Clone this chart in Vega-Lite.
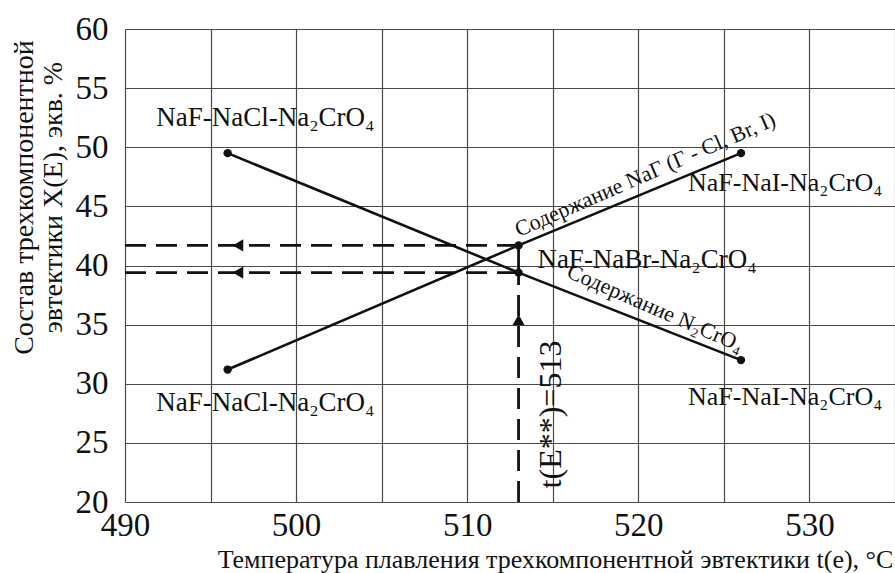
{
  "$schema": "https://vega.github.io/schema/vega-lite/v6.json",
  "autosize": {"type": "none"},
  "padding": {"left": 125, "top": 29, "right": 0, "bottom": 71},
  "width": 770,
  "height": 473,
  "background": "white",
  "config": {
    "view": {"stroke": null},
    "font": "Liberation Serif",
    "axis": {
      "grid": true,
      "gridColor": "#4a4a4a",
      "gridWidth": 1.2,
      "gridOpacity": 1,
      "domain": false,
      "ticks": false,
      "labelFont": "Liberation Serif",
      "titleFont": "Liberation Serif",
      "labelColor": "#111111",
      "titleColor": "#111111",
      "titleFontWeight": "normal",
      "labelFontSize": 33
    }
  },
  "datasets": {
    "lines": [
      {"series": "X", "t": 496, "v": 49.5},
      {"series": "X", "t": 513, "v": 39.4},
      {"series": "X", "t": 526, "v": 32.0},
      {"series": "G", "t": 496, "v": 31.2},
      {"series": "G", "t": 513, "v": 41.7},
      {"series": "G", "t": 526, "v": 49.5}
    ],
    "dashed": [
      {"t": 490, "t2": 513, "v": 41.7, "v2": 41.7},
      {"t": 490, "t2": 513, "v": 39.4, "v2": 39.4},
      {"t": 513, "t2": 513, "v": 20, "v2": 39.4}
    ],
    "solid": [
      {"t": 513, "t2": 513, "v": 39.4, "v2": 41.7}
    ],
    "leftArrows": [
      {"t": 496.6, "v": 41.7},
      {"t": 496.6, "v": 39.4}
    ],
    "upArrows": [
      {"t": 513, "v": 35.4}
    ],
    "labels": [
      {"t": 498.2, "v": 52.5, "text": "NaF-NaCl-Na₂CrO₄"},
      {"t": 498.2, "v": 28.4, "text": "NaF-NaCl-Na₂CrO₄"}
    ],
    "labelsLeft": [
      {"t": 514.1, "v": 40.5, "text": "NaF-NaBr-Na₂CrO₄"}
    ],
    "labelsRight": [
      {"t": 522.9, "v": 47.0, "text": "NaF-NaI-Na₂CrO₄"},
      {"t": 522.9, "v": 28.9, "text": "NaF-NaI-Na₂CrO₄"}
    ],
    "slantedUp": [
      {"t": 520.4, "v": 47.7, "text": "Содержание NaГ (Г - Cl, Br, I)"}
    ],
    "slantedDown": [
      {"t": 521.0, "v": 36.4, "text": "Содержание N₂CrO₄"}
    ],
    "vertical": [
      {"t": 514.9, "v": 27.4, "text": "t(E**)=513"}
    ]
  },
  "encoding": {},
  "layer": [
    {
      "data": {"name": "dashed"},
      "mark": {"type": "rule", "color": "#111111", "strokeWidth": 2.8, "strokeDash": [21, 10]},
      "encoding": {
        "x": {"field": "t", "type": "quantitative", "scale": {"domain": [490, 535], "nice": false, "zero": false},
          "axis": {
            "values": [490, 495, 500, 505, 510, 515, 520, 525, 530, 535],
            "labelExpr": "datum.value % 10 == 0 && datum.value < 535 ? datum.label : ''",
            "labelPadding": 7,
            "labelFlush": false,
            "title": "Температура плавления трехкомпонентной эвтектики t(e), °C",
            "titleFontSize": 26,
            "titleX": 430,
            "titleY": 65,
            "titleAnchor": null,
            "titleAlign": "center",
            "titleBaseline": "alphabetic"
          }},
        "x2": {"field": "t2"},
        "y": {"field": "v", "type": "quantitative", "scale": {"domain": [20, 60], "nice": false, "zero": false},
          "axis": {
            "values": [20, 25, 30, 35, 40, 45, 50, 55, 60],
            "labelPadding": 17,
            "labelFlush": false,
            "title": ["Состав трехкомпонентной", "эвтектики X(E), экв. %"],
            "titleFontSize": 28,
            "titleLineHeight": 29,
            "titleX": -93,
            "titleY": 168,
            "titleAnchor": null,
            "titleAlign": "center",
            "titleBaseline": "alphabetic",
            "titleAngle": 270
          }},
        "y2": {"field": "v2"}
      }
    },
    {
      "data": {"name": "solid"},
      "mark": {"type": "rule", "color": "#111111", "strokeWidth": 2.8},
      "encoding": {
        "x": {"field": "t", "type": "quantitative"},
        "x2": {"field": "t2"},
        "y": {"field": "v", "type": "quantitative"},
        "y2": {"field": "v2"}
      }
    },
    {
      "data": {"name": "lines"},
      "mark": {"type": "line", "color": "#111111", "strokeWidth": 2.6, "point": {"filled": true, "color": "#111111", "size": 70}},
      "encoding": {
        "x": {"field": "t", "type": "quantitative"},
        "y": {"field": "v", "type": "quantitative"},
        "detail": {"field": "series"}
      }
    },
    {
      "data": {"name": "leftArrows"},
      "mark": {"type": "point", "shape": "triangle-left", "filled": true, "color": "#111111", "opacity": 1, "size": 150},
      "encoding": {
        "x": {"field": "t", "type": "quantitative"},
        "y": {"field": "v", "type": "quantitative"}
      }
    },
    {
      "data": {"name": "upArrows"},
      "mark": {"type": "point", "shape": "triangle-up", "filled": true, "color": "#111111", "opacity": 1, "size": 150},
      "encoding": {
        "x": {"field": "t", "type": "quantitative"},
        "y": {"field": "v", "type": "quantitative"}
      }
    },
    {
      "data": {"name": "labels"},
      "mark": {"type": "text", "font": "Liberation Serif", "fontSize": 27, "color": "#111111", "align": "center", "baseline": "middle"},
      "encoding": {
        "x": {"field": "t", "type": "quantitative"},
        "y": {"field": "v", "type": "quantitative"},
        "text": {"field": "text"}
      }
    },
    {
      "data": {"name": "labelsLeft"},
      "mark": {"type": "text", "font": "Liberation Serif", "fontSize": 27, "color": "#111111", "align": "left", "baseline": "middle"},
      "encoding": {
        "x": {"field": "t", "type": "quantitative"},
        "y": {"field": "v", "type": "quantitative"},
        "text": {"field": "text"}
      }
    },
    {
      "data": {"name": "labelsRight"},
      "mark": {"type": "text", "font": "Liberation Serif", "fontSize": 26, "color": "#111111", "align": "left", "baseline": "middle"},
      "encoding": {
        "x": {"field": "t", "type": "quantitative"},
        "y": {"field": "v", "type": "quantitative"},
        "text": {"field": "text"}
      }
    },
    {
      "data": {"name": "slantedUp"},
      "mark": {"type": "text", "font": "Liberation Serif", "fontSize": 22, "color": "#111111", "align": "center", "baseline": "middle", "angle": 336.5},
      "encoding": {
        "x": {"field": "t", "type": "quantitative"},
        "y": {"field": "v", "type": "quantitative"},
        "text": {"field": "text"}
      }
    },
    {
      "data": {"name": "slantedDown"},
      "mark": {"type": "text", "font": "Liberation Serif", "fontSize": 22, "color": "#111111", "align": "center", "baseline": "middle", "angle": 23.5},
      "encoding": {
        "x": {"field": "t", "type": "quantitative"},
        "y": {"field": "v", "type": "quantitative"},
        "text": {"field": "text"}
      }
    },
    {
      "data": {"name": "vertical"},
      "mark": {"type": "text", "font": "Liberation Serif", "fontSize": 32, "color": "#111111", "align": "center", "baseline": "middle", "angle": 270},
      "encoding": {
        "x": {"field": "t", "type": "quantitative"},
        "y": {"field": "v", "type": "quantitative"},
        "text": {"field": "text"}
      }
    }
  ]
}
